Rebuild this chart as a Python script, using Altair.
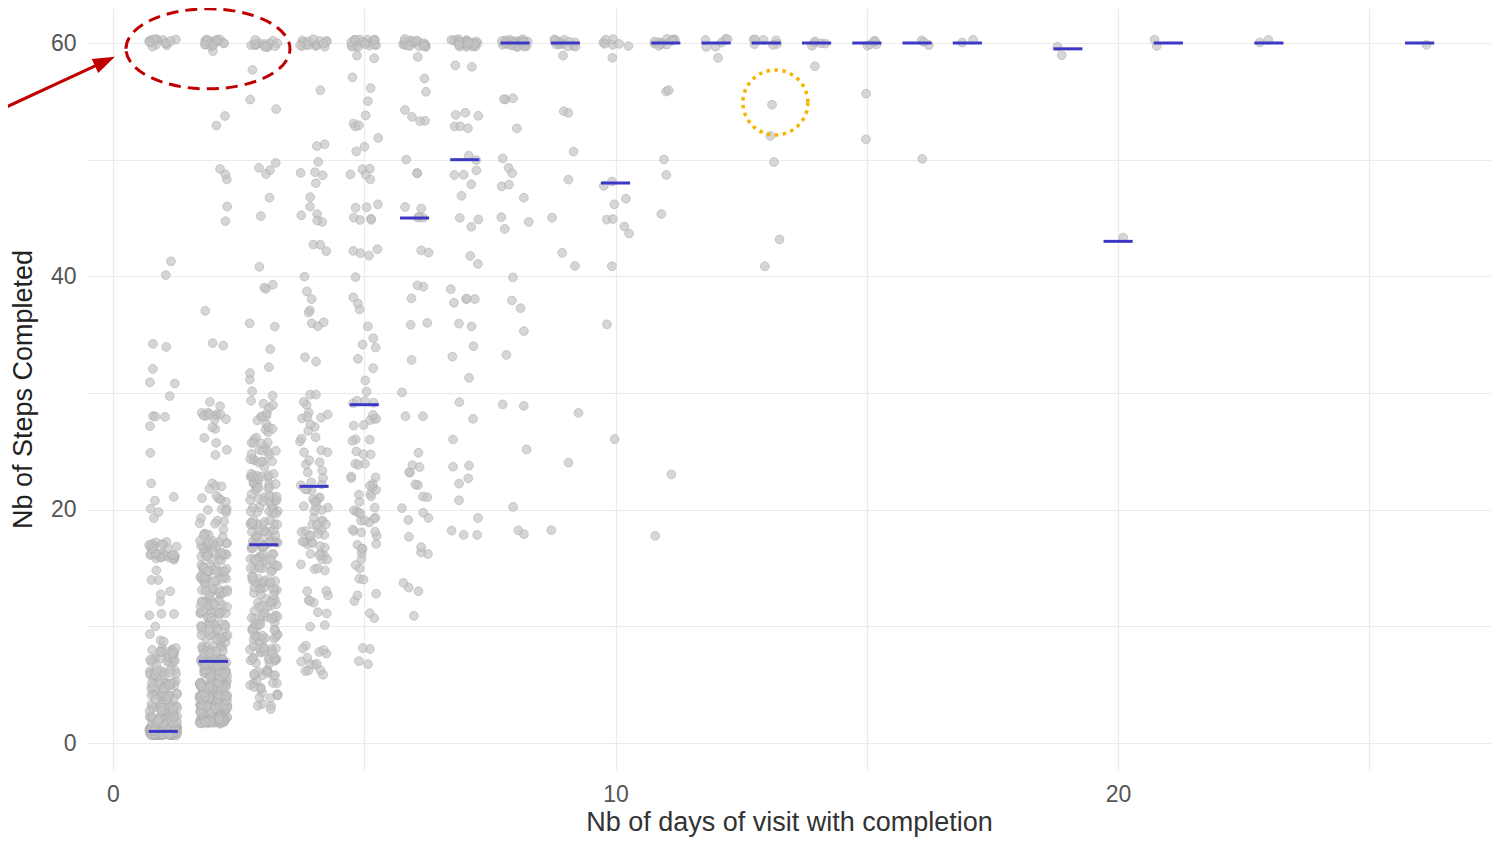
import altair as alt
import pandas as pd

# ---------------- data ----------------
days = [1, 2, 3, 4, 5, 6, 7, 8, 9, 10, 11, 12, 13, 14, 15, 16, 17, 19, 20, 21, 23, 26]

d01_steps = [1, 2, 3, 4, 5, 6, 7, 8, 9, 10, 11, 12, 13, 14, 15, 16, 17, 19, 20, 21, 22, 25, 27, 28, 30, 31, 32, 34, 40, 41, 60]
d01_counts = [230, 25, 20, 20, 18, 16, 14, 12, 3, 1, 3, 1, 2, 2, 1, 18, 12, 1, 2, 2, 1, 1, 1, 3, 1, 2, 1, 2, 1, 1, 15]

d02_steps = [2, 3, 4, 5, 6, 7, 8, 9, 10, 11, 12, 13, 14, 15, 16, 17, 18, 19, 20, 21, 22, 25, 26, 27, 28, 29, 34, 37, 45, 46, 48, 49, 53, 54, 59, 60]
d02_counts = [50, 45, 38, 32, 30, 30, 14, 14, 14, 14, 14, 14, 14, 14, 16, 16, 6, 5, 5, 5, 4, 2, 2, 2, 10, 2, 2, 1, 1, 1, 1, 2, 1, 1, 1, 15]

d03_steps = [3, 4, 5, 6, 7, 8, 9, 10, 11, 12, 13, 14, 15, 16, 17, 18, 19, 20, 21, 22, 23, 24, 25, 26, 27, 28, 29,
             30, 31, 32, 34, 36, 39, 41, 45, 47, 49, 50, 54, 55, 58, 60]
d03_counts = [4, 6, 8, 10, 11, 12, 12, 12, 12, 11, 11, 11, 11, 11, 18, 11, 11, 11, 11, 11, 10, 8, 7, 6, 5, 5, 4,
              2, 1, 2, 1, 2, 3, 1, 1, 1, 3, 1, 1, 1, 1, 16]

d04_steps = [6, 7, 8, 10, 11, 12, 13, 15, 16, 17, 18, 19, 20, 21, 22, 23, 24, 25, 26, 27, 28, 29,
             30, 33, 36, 37, 38, 39, 40, 42, 43, 45, 46, 47, 48, 49, 50, 51, 56, 60]
d04_counts = [4, 5, 5, 2, 2, 3, 3, 4, 6, 8, 8, 6, 5, 5, 6, 3, 3, 3, 3, 3, 5, 2,
              2, 2, 3, 2, 1, 1, 1, 1, 2, 4, 1, 1, 1, 3, 1, 2, 1, 16]

d05_steps = [7, 8, 11, 12, 13, 14, 15, 16, 17, 18, 19, 20, 21, 22, 23, 24, 25, 26, 27, 28, 29,
             30, 31, 32, 33, 34, 35, 36, 37, 38, 40, 42, 45, 46, 48, 49, 51, 52, 53, 54, 55, 56, 57, 59, 60]
d05_counts = [2, 2, 2, 1, 2, 2, 2, 2, 4, 5, 5, 5, 4, 4, 3, 3, 3, 3, 2, 4, 4,
              1, 1, 1, 1, 2, 1, 1, 1, 2, 1, 4, 4, 3, 1, 4, 2, 1, 3, 1, 1, 1, 1, 2, 20]

d06_steps = [11, 13, 14, 16, 17, 18, 19, 20, 21, 22, 23, 24, 25, 28, 30, 33, 36, 38, 39, 42, 45,
             46, 49, 50, 53, 54, 56, 57, 59, 60]
d06_counts = [1, 2, 1, 2, 1, 1, 2, 2, 2, 2, 2, 2, 1, 2, 1, 1, 2, 1, 2, 2, 3,
              2, 2, 1, 2, 2, 1, 1, 1, 18]

d07_steps = [18, 19, 21, 22, 23, 24, 26, 28, 29, 31, 33, 34, 36, 38, 39, 41, 42, 44, 45, 47, 48, 49, 50, 53, 54, 58, 60]
d07_counts = [3, 1, 1, 1, 1, 2, 1, 1, 1, 1, 1, 1, 2, 4, 1, 1, 1, 1, 2, 1, 1, 3, 2, 3, 3, 2, 25]

d08_steps = [18, 20, 25, 29, 33, 35, 37, 38, 40, 44, 45, 47, 48, 49, 50, 53, 55, 60]
d08_counts = [2, 1, 1, 2, 1, 1, 1, 1, 1, 1, 2, 1, 2, 2, 1, 1, 3, 28]

d09_steps = [18, 24, 28, 41, 42, 45, 48, 51, 54, 59, 60]
d09_counts = [1, 1, 1, 1, 1, 1, 1, 1, 2, 1, 14]

d10_steps = [26, 36, 41, 44, 45, 46, 47, 48, 59, 60]
d10_counts = [1, 1, 1, 2, 2, 1, 1, 2, 1, 7]

d11_steps = [18, 23, 45, 49, 50, 56, 60]
d11_counts = [1, 1, 1, 1, 1, 2, 12]

d12_steps = [59, 60]
d12_counts = [1, 6]
d13_steps = [41, 43, 50, 52, 55, 60]
d13_counts = [1, 1, 1, 1, 1, 7]
d14_steps = [58, 60]
d14_counts = [1, 5]
d15_steps = [52, 56, 60]
d15_counts = [1, 1, 5]
d16_steps = [50, 60]
d16_counts = [1, 3]
d17_steps = [60]
d17_counts = [2]
d19_steps = [59, 60]
d19_counts = [1, 1]
d20_steps = [43]
d20_counts = [1]
d21_steps = [60]
d21_counts = [2]
d23_steps = [60]
d23_counts = [2]
d26_steps = [60]
d26_counts = [1]

series = {
    1: (d01_steps, d01_counts), 2: (d02_steps, d02_counts), 3: (d03_steps, d03_counts),
    4: (d04_steps, d04_counts), 5: (d05_steps, d05_counts), 6: (d06_steps, d06_counts),
    7: (d07_steps, d07_counts), 8: (d08_steps, d08_counts), 9: (d09_steps, d09_counts),
    10: (d10_steps, d10_counts), 11: (d11_steps, d11_counts), 12: (d12_steps, d12_counts),
    13: (d13_steps, d13_counts), 14: (d14_steps, d14_counts), 15: (d15_steps, d15_counts),
    16: (d16_steps, d16_counts), 17: (d17_steps, d17_counts), 19: (d19_steps, d19_counts),
    20: (d20_steps, d20_counts), 21: (d21_steps, d21_counts), 23: (d23_steps, d23_counts),
    26: (d26_steps, d26_counts),
}

# annotation anchors (data units)
ellipse_center = [1.89, 59.5]
arrow_start = [-2.25, 54.26]
arrow_end = [-0.16, 58.42]
circle_center = [13.18, 54.9]

x_ticks = [0, 5, 10, 15, 20, 25]
y_ticks = [0, 10, 20, 30, 40, 50, 60]

# ---------------- build table ----------------
rows = []
for d in days:
    s, c = series[d]
    for v, n in zip(s, c):
        rows += [(d, v)] * n
df = pd.DataFrame(rows, columns=["day", "steps"])
df["id"] = range(len(df))

X_DOM = [-0.517, 27.42]
Y_DOM = [-2.31, 63.0]
FONT = "Liberation Sans"

xs = alt.Scale(domain=X_DOM, nice=False, zero=False)
ys = alt.Scale(domain=Y_DOM, nice=False, zero=False)

x_axis = alt.Axis(
    values=x_ticks, labelExpr="datum.value % 10 == 0 ? datum.label : ''",
    title="Nb of days of visit with completion", grid=True, ticks=False, domain=False,
    labelFontSize=23, titleFontSize=27, labelPadding=13, titlePadding=3,
    labelColor="#555555", titleColor="#333333", titleFontWeight="normal",
    labelFont=FONT, titleFont=FONT, gridColor="#ebebeb", gridWidth=1.2,
)
y_axis = alt.Axis(
    values=y_ticks, labelExpr="datum.value % 20 == 0 ? datum.label : ''",
    title="Nb of Steps Completed", grid=True, ticks=False, domain=False,
    labelFontSize=23, titleFontSize=27, labelPadding=11, titlePadding=13,
    labelColor="#555555", titleColor="#222222", titleFontWeight="normal",
    labelFont=FONT, titleFont=FONT, gridColor="#ebebeb", gridWidth=1.2,
)

base = alt.Chart(df)

points = base.transform_calculate(
    h1="sin(datum.id*12.9898+1.7)*43758.5453",
    h2="sin(datum.id*78.233+4.1)*24634.6345",
).transform_calculate(
    jx="datum.day + 0.56*((datum.h1 - floor(datum.h1)) - 0.5)",
    jy="datum.steps + 0.7*((datum.h2 - floor(datum.h2)) - 0.5)",
).mark_circle(
    size=78, fill="#c2c2c2", fillOpacity=0.68, stroke="#a8a8a8", strokeWidth=1, strokeOpacity=0.5
).encode(
    x=alt.X("jx:Q", scale=xs, axis=x_axis),
    y=alt.Y("jy:Q", scale=ys, axis=y_axis),
)

medians = base.transform_aggregate(
    med="median(steps)", groupby=["day"]
).transform_calculate(
    lo="datum.day - 0.29", hi="datum.day + 0.29"
).mark_rule(color="#3d38c4", strokeWidth=3).encode(
    x=alt.X("lo:Q", scale=xs, axis=x_axis),
    x2="hi:Q",
    y=alt.Y("med:Q", scale=ys, axis=y_axis),
)

ell_df = pd.DataFrame({"x": [ellipse_center[0]], "y": [ellipse_center[1]]})
ellipse = alt.Chart(ell_df).mark_point(
    shape="M -1 0 A 1 0.488 0 1 1 1 0 A 1 0.488 0 1 1 -1 0 Z",
    size=26896, filled=False, color="#c00000", strokeWidth=3, strokeDash=[12, 7], opacity=1,
).encode(x=alt.X("x:Q", scale=xs, axis=x_axis), y=alt.Y("y:Q", scale=ys, axis=y_axis))

arr_df = pd.DataFrame({"x": [arrow_start[0]], "y": [arrow_start[1]],
                       "x2": [arrow_end[0]], "y2": [arrow_end[1]]})
arrow_line = alt.Chart(arr_df).mark_rule(color="#c00000", strokeWidth=3).encode(
    x=alt.X("x:Q", scale=xs, axis=x_axis), y=alt.Y("y:Q", scale=ys, axis=y_axis),
    x2="x2:Q", y2="y2:Q",
)
head_df = pd.DataFrame({"x": [arrow_end[0]], "y": [arrow_end[1]]})
arrow_head = alt.Chart(head_df).mark_point(
    shape="M 1 0 L -1 -0.7 L -1 0.7 Z", filled=True, color="#c00000", size=484, angle=335, opacity=1,
).encode(x=alt.X("x:Q", scale=xs, axis=x_axis), y=alt.Y("y:Q", scale=ys, axis=y_axis))

circ_df = pd.DataFrame({"x": [circle_center[0]], "y": [circle_center[1]]})
circle = alt.Chart(circ_df).mark_point(
    shape="circle", size=4225, filled=False, color="#f5b400", strokeWidth=3.5,
    strokeDash=[3.5, 4.5], opacity=1,
).encode(x=alt.X("x:Q", scale=xs, axis=x_axis), y=alt.Y("y:Q", scale=ys, axis=y_axis))

chart = alt.layer(points, medians, ellipse, arrow_line, arrow_head, circle).properties(
    width=1404, height=762,
    autosize=alt.AutoSizeParams(type="none"),
    padding={"left": 79, "top": 0, "right": 0, "bottom": 68},
    background="white",
).configure_view(stroke=None)

chart.save("out.html", embed_options={"renderer": "svg", "actions": False})
